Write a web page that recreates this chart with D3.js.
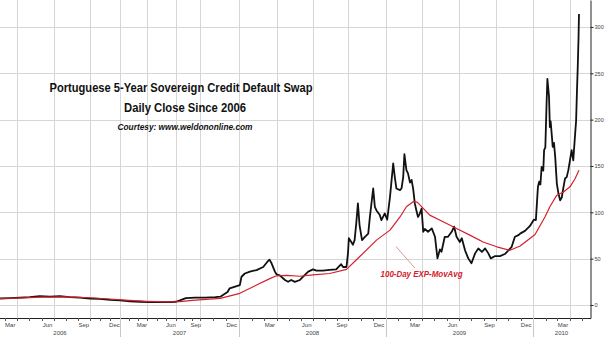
<!DOCTYPE html>
<html><head><meta charset="utf-8">
<script src="https://cdn.jsdelivr.net/npm/d3@7"></script>
<style>
html,body{margin:0;padding:0;background:#fff;}
svg{display:block;}
</style></head>
<body>
<script>
// ---- data ----
const titleLines = ["Portuguese 5-Year Sovereign Credit Default Swap", "Daily Close Since 2006"];
const courtesy = "Courtesy: www.weldononline.com";
const emaLabel = "100-Day EXP-MovAvg";
const yTicks = [0, 50, 100, 150, 200, 250, 300];
const monthLabels = ["Mar", "Jun", "Sep", "Dec"];
const yearLabels = ["2006", "2007", "2008", "2009", "2010"];

const cdsClose = [
["2006-02-17",7],["2006-03-15",7.5],["2006-04-08",8],["2006-05-02",8.5],["2006-05-27",9.5],["2006-06-21",9],
["2006-07-16",9.5],["2006-08-10",8.5],["2006-09-05",8],["2006-10-01",7],["2006-10-31",6.5],["2006-12-01",5.5],
["2007-01-01",5],["2007-02-03",4],["2007-03-09",3.5],["2007-04-10",3],["2007-05-11",3],["2007-06-12",3],
["2007-07-01",3.5],["2007-07-16",5],["2007-08-08",7.5],["2007-09-12",8],["2007-10-13",8],["2007-11-06",8.5],
["2007-11-18",9],["2007-12-05",14],["2007-12-10",18],["2008-01-03",21.5],["2008-01-07",30.5],["2008-01-15",34],
["2008-01-27",36],["2008-02-12",37.7],["2008-02-28",41],["2008-03-09",46.7],["2008-03-14",49],["2008-03-19",45],
["2008-03-27",36],["2008-03-31",33],["2008-04-08",32],["2008-04-21",27],["2008-04-29",25],["2008-05-07",27],
["2008-05-16",25],["2008-05-29",27],["2008-06-06",30.5],["2008-06-19",36],["2008-07-01",38.5],["2008-07-10",37],
["2008-07-27",37],["2008-08-14",38],["2008-08-31",38.5],["2008-09-13",44],["2008-09-18",41],["2008-09-27",41],
["2008-10-01",56],["2008-10-03",72],["2008-10-09",68],["2008-10-13",65],["2008-10-17",70],["2008-10-21",88],
["2008-10-25",109.6],["2008-10-29",86],["2008-11-04",70],["2008-11-11",73.6],["2008-11-19",77],["2008-11-23",95],
["2008-12-01",125.7],["2008-12-05",106],["2008-12-09",102],["2008-12-17",97],["2008-12-21",91.6],["2008-12-29",98.8],
["2009-01-04",92],["2009-01-11",116.7],["2009-01-15",134.7],["2009-01-19",152.7],["2009-01-23",138],["2009-01-27",125.7],
["2009-02-05",124],["2009-02-09",126],["2009-02-13",138],["2009-02-16",162.7],["2009-02-21",145.5],["2009-02-25",142],
["2009-03-02",132],["2009-03-06",135],["2009-03-10",125],["2009-03-14",109.6],["2009-03-18",102],["2009-03-22",95],
["2009-03-26",98],["2009-03-31",104],["2009-04-04",79],["2009-04-08",82],["2009-04-16",79],["2009-04-25",82.6],
["2009-05-03",73.6],["2009-05-09",50.3],["2009-05-15",60],["2009-05-19",57.4],["2009-05-27",73.6],["2009-06-04",73.6],
["2009-06-13",79],["2009-06-19",84.5],["2009-06-25",73.6],["2009-07-03",68],["2009-07-08",72],["2009-07-16",59],
["2009-07-24",50.3],["2009-08-01",45],["2009-08-10",55.7],["2009-08-18",61],["2009-08-27",57.4],["2009-09-04",61],
["2009-09-12",55.7],["2009-09-18",50.3],["2009-09-29",52.8],["2009-10-11",52.8],["2009-10-23",55],["2009-11-01",59],
["2009-11-09",62.8],["2009-11-17",73.6],["2009-11-26",75.4],["2009-11-30",77],["2009-12-12",80],["2009-12-24",85],
["2010-01-03",92],["2010-01-08",91.6],["2010-01-13",127.5],["2010-01-16",133],["2010-01-19",130],["2010-01-22",149],
["2010-01-26",145],["2010-01-28",167],["2010-01-31",170],["2010-02-03",217],["2010-02-05",244],["2010-02-09",224.5],
["2010-02-11",192],["2010-02-13",198],["2010-02-18",170.6],["2010-02-21",175],["2010-02-24",159.8],["2010-02-28",131],
["2010-03-04",120],["2010-03-08",113],["2010-03-12",116],["2010-03-16",127],["2010-03-20",136.5],["2010-03-24",138],
["2010-03-28",145.5],["2010-04-05",167],["2010-04-09",156],["2010-04-13",181],["2010-04-16",199],["2010-04-18",230],
["2010-04-20",257],["2010-04-22",290],["2010-04-23",314]
];

const emaLine = [
["2006-02-17",7],["2006-04-01",7.5],["2006-06-01",8.5],["2006-08-01",8.7],["2006-10-01",7.8],["2006-12-01",6.5],
["2007-02-01",5],["2007-04-01",4],["2007-06-01",3.3],["2007-07-16",3.6],["2007-09-01",5],["2007-11-18",7.2],
["2008-01-03",12.6],["2008-02-12",21.5],["2008-03-16",28.7],["2008-03-31",31.5],["2008-04-26",32],["2008-05-29",31],
["2008-07-01",32.5],["2008-08-14",34],["2008-09-27",38.5],["2008-10-29",52],["2008-12-09",70],["2009-01-11",80.8],
["2009-02-05",95],["2009-02-21",106],["2009-03-10",111.5],["2009-03-20",111],["2009-04-20",97],["2009-05-23",89.8],
["2009-06-25",82.6],["2009-07-28",75.4],["2009-08-30",68],["2009-10-03",62.8],["2009-11-05",59],["2009-11-30",63.6],
["2010-01-06",76],["2010-01-30",95],["2010-02-11",106],["2010-02-28",118.5],["2010-03-16",122],["2010-04-01",127.5],
["2010-04-13",136],["2010-04-23",145.5]
];

// annotation pointer (date, value) pairs
const pointerFrom = ["2009-01-26", 63];
const pointerTo = ["2009-03-14", 40];
const emaLabelAt = ["2009-03-31", 30];

// ---- layout ----
const W = 606, H = 337;
const plotRight = 590, plotBottom = 318;
const parse = d3.utcParse("%Y-%m-%d");

// trading-day style axis: quarter boundaries are not evenly spaced on the original
const xAnchorDates = ["2006-02-17","2006-04-01","2006-07-01","2006-10-01","2007-01-01","2007-04-01","2007-07-01",
  "2007-10-01","2008-01-01","2008-04-01","2008-07-01","2008-10-01","2009-01-01","2009-04-01","2009-07-01",
  "2009-10-01","2010-01-01","2010-04-01","2010-05-20"].map(parse);
const xAnchorPx = [0,17,54,90,120,147,176,200,239,277,313,348,386,422,459,496,533,570,590];

const x = d3.scaleUtc().domain(xAnchorDates).range(xAnchorPx);
const y = d3.scaleLinear().domain([-14.03, 329.1]).range([plotBottom, 0]);

const svg = d3.select("body").append("svg").attr("width", W).attr("height", H);
svg.append("rect").attr("width", W).attr("height", H).attr("fill", "#fff");

const start = xAnchorDates[0], end = xAnchorDates[xAnchorDates.length - 1];
const months = d3.utcMonth.range(start, end);
const quarterStarts = months.filter(d => [0,3,6,9].includes(d.getUTCMonth()));
const yearStarts = d3.utcYear.range(start, end);

// grid
const grid = svg.append("g").attr("stroke", "#d6d6d6").attr("stroke-width", 1);
grid.selectAll("line.v").data(quarterStarts).join("line")
  .attr("x1", d => Math.round(x(d)) + 0.5).attr("x2", d => Math.round(x(d)) + 0.5)
  .attr("y1", 0).attr("y2", plotBottom);
grid.selectAll("line.h").data(yTicks).join("line")
  .attr("x1", 0).attr("x2", plotRight)
  .attr("y1", d => Math.round(y(d)) + 0.5).attr("y2", d => Math.round(y(d)) + 0.5);

// lines
const line = d3.line().x(d => x(parse(d[0]))).y(d => y(d[1]));
svg.append("path").datum(cdsClose).attr("d", line)
  .attr("fill", "none").attr("stroke", "#111").attr("stroke-width", 1.8).attr("stroke-linejoin", "round");
svg.append("path").datum(emaLine).attr("d", line).attr("class", "ema")
  .attr("fill", "none").attr("stroke", "#d4202c").attr("stroke-width", 1.2).attr("stroke-linejoin", "round");

// right axis
const sans = "'Liberation Sans', Arial, sans-serif";
const yAxis = d3.axisRight(y).tickValues(yTicks).tickSize(3).tickSizeOuter(0).tickPadding(1);
const ga = svg.append("g").attr("transform", `translate(${plotRight + 0.5},0)`).call(yAxis);
ga.select(".domain").attr("stroke", "#222");
ga.selectAll(".tick line").attr("stroke", "#222");
ga.selectAll("text").attr("font-family", sans).attr("font-size", 5.6).attr("fill", "#444");

// bottom axis
const gb = svg.append("g");
gb.append("line").attr("x1", 0).attr("x2", plotRight + 1).attr("y1", plotBottom + 0.5).attr("y2", plotBottom + 0.5).attr("stroke", "#222");
gb.selectAll("line.mt").data(months).join("line")
  .attr("x1", d => Math.round(x(d)) + 0.5).attr("x2", d => Math.round(x(d)) + 0.5)
  .attr("y1", plotBottom).attr("y2", plotBottom + 3).attr("stroke", "#555");
gb.selectAll("line.yt").data(yearStarts.filter(d => x(d) > 1)).join("line")
  .attr("x1", d => Math.round(x(d)) + 0.5).attr("x2", d => Math.round(x(d)) + 0.5)
  .attr("y1", plotBottom).attr("y2", H).attr("stroke", "#c8c8c8");
const labelMonths = months.filter(d => [2,5,8,11].includes(d.getUTCMonth()));
gb.selectAll("text.m").data(labelMonths).join("text")
  .attr("x", d => x(d3.utcDay.offset(d, 14))).attr("y", plotBottom + 9)
  .attr("text-anchor", "middle").attr("font-family", sans)
  .attr("font-size", 6).attr("fill", "#444")
  .text(d => monthLabels[[2,5,8,11].indexOf(d.getUTCMonth())]);
const yearBounds = yearLabels.map(yl => {
  const a = Math.max(0, x(parse(yl + "-01-01")));
  const b = Math.min(plotRight, x(parse((+yl + 1) + "-01-01")));
  return {label: yl, cx: (a + b) / 2};
});
gb.selectAll("text.y").data(yearBounds).join("text")
  .attr("x", d => d.cx).attr("y", plotBottom + 17)
  .attr("text-anchor", "middle").attr("font-family", sans)
  .attr("font-size", 6).attr("fill", "#444").text(d => d.label);

// titles (condensed look via textLength)
function title(txt, cx, by, size, len, italic, color) {
  svg.append("text").attr("x", cx).attr("y", by).attr("text-anchor", "middle")
    .attr("font-family", sans).attr("font-weight", "bold").attr("font-style", italic ? "italic" : "normal")
    .attr("font-size", size).attr("fill", color)
    .attr("textLength", len).attr("lengthAdjust", "spacingAndGlyphs").text(txt);
}
title(titleLines[0], 181, 92, 12.5, 263, false, "#111");
title(titleLines[1], 185, 112, 12.5, 122, false, "#111");
title(courtesy, 185, 130, 9.5, 135, true, "#111");

// annotation
svg.append("line")
  .attr("x1", x(parse(pointerFrom[0]))).attr("y1", y(pointerFrom[1]))
  .attr("x2", x(parse(pointerTo[0]))).attr("y2", y(pointerTo[1]))
  .attr("stroke", "#d99a9a").attr("stroke-width", 1);
title(emaLabel, x(parse(emaLabelAt[0])), y(emaLabelAt[1]), 9.5, 82, true, "#d4202c");
</script>
</body></html>
